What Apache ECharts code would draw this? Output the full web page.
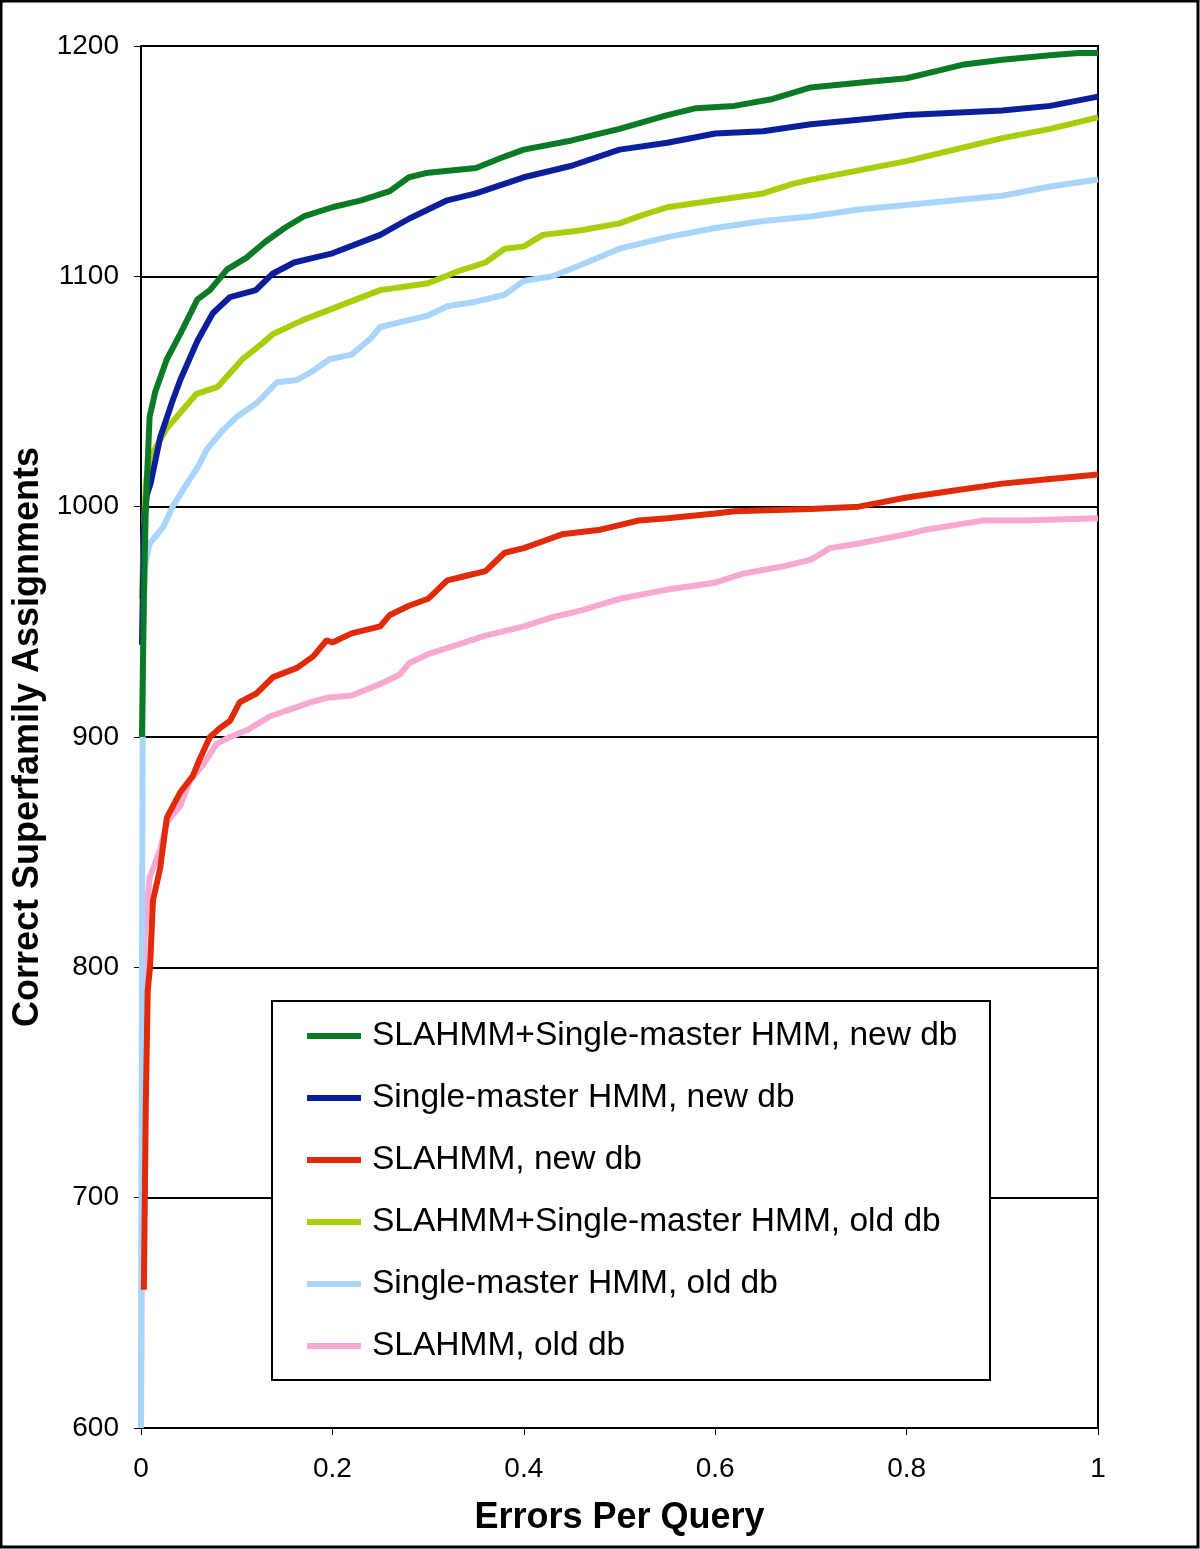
<!DOCTYPE html>
<html><head><meta charset="utf-8">
<script src="https://cdn.jsdelivr.net/npm/echarts@6/dist/echarts.min.js"></script>
<style>html,body{margin:0;padding:0;background:#fff}#c{width:1200px;height:1549px}</style>
</head><body><div id="c"></div>
<script>
const seriesNames = ["SLAHMM+Single-master HMM, new db","Single-master HMM, new db","SLAHMM, new db","SLAHMM+Single-master HMM, old db","Single-master HMM, old db","SLAHMM, old db"];
const seriesColors = ["#0b7a25","#0b1f9c","#e02a0a","#a6cf0a","#a9d5fb","#f7a9d2"];

const greenX = [0.001,0.003,0.005,0.009,0.015,0.027,0.041,0.059,0.072,0.09,0.11,0.13,0.15,0.17,0.2,0.23,0.26,0.28,0.3,0.35,0.38,0.4,0.45,0.5,0.55,0.58,0.62,0.66,0.7,0.75,0.8,0.83,0.86,0.9,0.95,0.98,1.0];
const greenY = [900,960,1000,1039,1050,1064,1075,1090,1094,1103,1108,1115,1121,1126,1130,1133,1137,1143,1145,1147,1152,1155,1159,1164,1170,1173,1174,1177,1182,1184,1186,1189,1192,1194,1196,1197,1197];

const blueX = [0.001,0.003,0.006,0.01,0.02,0.033,0.041,0.059,0.075,0.093,0.12,0.137,0.16,0.18,0.2,0.25,0.28,0.32,0.35,0.4,0.45,0.5,0.55,0.6,0.65,0.7,0.75,0.8,0.85,0.9,0.95,1.0];
const blueY = [940,990,1005,1010,1030,1046,1055,1072,1084,1091,1094,1101,1106,1108,1110,1118,1125,1133,1136,1143,1148,1155,1158,1162,1163,1166,1168,1170,1171,1172,1174,1178];

const redX = [0.003,0.005,0.007,0.0094,0.0125,0.02,0.027,0.041,0.054,0.062,0.072,0.083,0.093,0.103,0.121,0.138,0.163,0.18,0.194,0.2,0.22,0.25,0.26,0.28,0.3,0.32,0.34,0.36,0.38,0.4,0.42,0.44,0.48,0.5,0.52,0.55,0.6,0.62,0.7,0.75,0.8,0.85,0.9,0.95,1.0];
const redY = [660,740,790,800,829,843,865,876,883,891,900,904,907,915,919,926,930,935,942,941,945,948,953,957,960,968,970,972,980,982,985,988,990,992,994,995,997,998,999,1000,1004,1007,1010,1012,1014];

const limeX = [0.001,0.003,0.005,0.009,0.027,0.058,0.08,0.106,0.127,0.138,0.169,0.2,0.25,0.3,0.33,0.36,0.38,0.4,0.42,0.46,0.5,0.52,0.55,0.6,0.65,0.68,0.7,0.75,0.8,0.85,0.9,0.95,1.0];
const limeY = [960,990,1010,1021,1034,1049,1052,1064,1071,1075,1081,1086,1094,1097,1102,1106,1112,1113,1118,1120,1123,1126,1130,1133,1136,1140,1142,1146,1150,1155,1160,1164,1169];

const skyX = [0,0.001,0.002,0.004,0.009,0.023,0.033,0.048,0.059,0.069,0.083,0.1,0.121,0.142,0.163,0.18,0.197,0.22,0.24,0.25,0.27,0.3,0.32,0.35,0.38,0.4,0.43,0.46,0.5,0.55,0.6,0.65,0.7,0.75,0.8,0.85,0.9,0.95,1.0];
const skyY = [600,800,940,974,984,991,1000,1010,1017,1025,1032,1039,1045,1054,1055,1059,1064,1066,1073,1078,1080,1083,1087,1089,1092,1098,1100,1105,1112,1117,1121,1124,1126,1129,1131,1133,1135,1139,1142];

const pinkX = [0,0.001,0.002,0.004,0.009,0.02,0.027,0.041,0.051,0.065,0.079,0.093,0.111,0.135,0.156,0.177,0.194,0.22,0.25,0.27,0.28,0.3,0.33,0.36,0.4,0.43,0.46,0.5,0.55,0.6,0.63,0.67,0.7,0.72,0.75,0.8,0.82,0.85,0.88,0.92,1.0];
const pinkY = [600,700,780,815,839,851,863,870,881,888,897,900,903,909,912,915,917,918,923,927,932,936,940,944,948,952,955,960,964,967,971,974,977,982,984,988,990,992,994,994,995];

const xTicks = {min:0, max:1, interval:0.2};
const yTicks = {min:600, max:1200, interval:100};

const xs = [greenX, blueX, redX, limeX, skyX, pinkX];
const ys = [greenY, blueY, redY, limeY, skyY, pinkY];

const FONT = "'Liberation Sans', Arial, sans-serif";
const chart = echarts.init(document.getElementById('c'), null, {renderer:'canvas'});
chart.setOption({
  animation:false,
  backgroundColor:'#fff',
  textStyle:{fontFamily:FONT},
  grid:{left:141, right:102, top:46, bottom:121, show:true, borderColor:'#000', borderWidth:2, backgroundColor:'transparent'},
  xAxis:{type:'value', min:xTicks.min, max:xTicks.max, interval:xTicks.interval,
    name:'Errors Per Query', nameLocation:'middle', nameGap:72,
    nameTextStyle:{fontFamily:FONT, fontSize:36, fontWeight:'bold', color:'#000'},
    axisLine:{show:true, onZero:false, lineStyle:{color:'#000', width:2}},
    axisTick:{show:true, length:7, lineStyle:{color:'#000', width:1}},
    axisLabel:{fontFamily:FONT, fontSize:28, color:'#000', margin:27, formatter:v=>String(v)},
    splitLine:{show:false}},
  yAxis:{type:'value', min:yTicks.min, max:yTicks.max, interval:yTicks.interval,
    name:'Correct Superfamily Assignments', nameLocation:'middle', nameGap:92, nameRotate:90,
    nameTextStyle:{fontFamily:FONT, fontSize:36, fontWeight:'bold', color:'#000'},
    axisLine:{show:true, onZero:false, lineStyle:{color:'#000', width:2}},
    axisTick:{show:true, length:7, lineStyle:{color:'#000', width:1}},
    axisLabel:{fontFamily:FONT, fontSize:28, color:'#000', margin:22, formatter:v=>String(v)},
    splitLine:{show:true, lineStyle:{color:'#000', width:2}}},
  legend:{orient:'vertical', left:307, top:1017, padding:0, z:10, icon:'rect', itemWidth:54, itemHeight:6, itemGap:24,
    data:seriesNames,
    textStyle:{fontFamily:FONT, fontSize:33.5, color:'#000', lineHeight:38, padding:[0,0,0,6]}},
  graphic:[
    {type:'rect', z:3, shape:{x:272, y:1001, width:718, height:379}, style:{fill:'#fff', stroke:'#000', lineWidth:2}},
    {type:'rect', z:20, silent:true, shape:{x:1, y:1, width:1197, height:1546}, style:{fill:'none', stroke:'#000', lineWidth:3}}
  ],
  series: seriesNames.map((n,i)=>({
    name:n, type:'line', showSymbol:false, symbol:'none', z:2,
    color:seriesColors[i],
    lineStyle:{color:seriesColors[i], width:6},
    data: xs[i].map((x,j)=>[x, ys[i][j]])
  })).reverse()
});
</script></body></html>
